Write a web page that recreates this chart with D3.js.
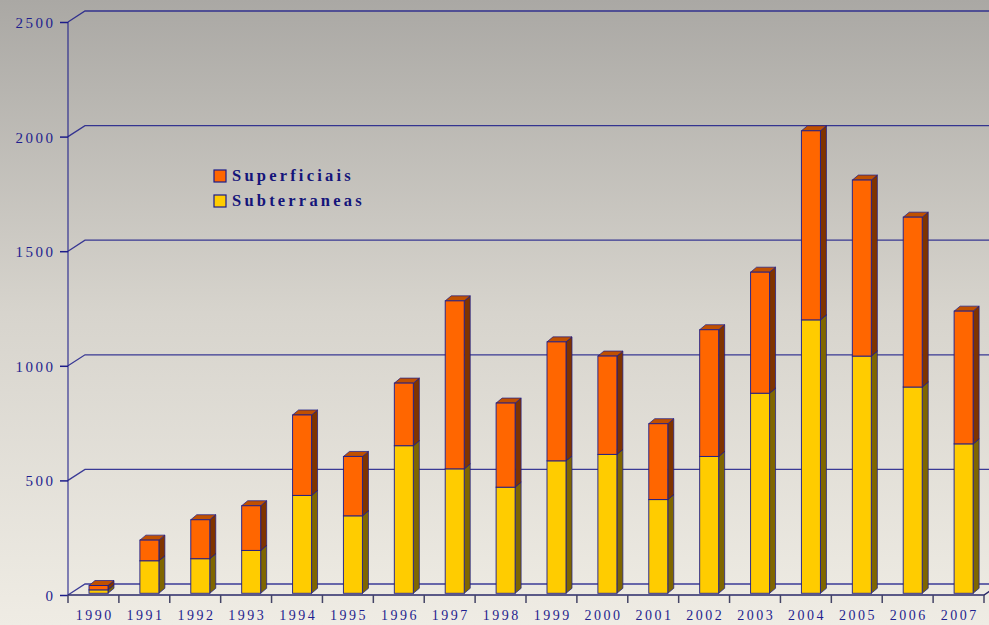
<!DOCTYPE html>
<html><head><meta charset="utf-8">
<script src="https://cdn.jsdelivr.net/npm/d3@7"></script>
<style>html,body{margin:0;padding:0;overflow:hidden;}svg{display:block;}</style>
</head><body>
<script>
const years = ["1990","1991","1992","1993","1994","1995","1996","1997","1998","1999","2000","2001","2002","2003","2004","2005","2006","2007"];
const subterraneas = [15,142,151,187,427,338,644,543,463,578,606,409,597,873,1193,1035,900,652];
const superficiais = [19,90,170,195,351,259,273,733,367,519,429,331,553,528,825,768,741,579];
const yTicks = [0,500,1000,1500,2000,2500];
const seriesNames = ["Superficiais","Subterraneas"];

const W = 989, H = 625;
const svg = d3.select("body").append("svg").attr("width", W).attr("height", H);
const defs = svg.append("defs");
const grad = defs.append("linearGradient").attr("id","bg").attr("x1",0).attr("y1",0).attr("x2",0).attr("y2",1);
grad.append("stop").attr("offset","0%").attr("stop-color","#aaa8a4");
grad.append("stop").attr("offset","50%").attr("stop-color","#d7d4cd");
grad.append("stop").attr("offset","100%").attr("stop-color","#efece4");
svg.append("rect").attr("width",W).attr("height",H).attr("fill","url(#bg)");

const navy = "#1c1c8a";
const x0 = 68, x1 = 984;
const x = d3.scaleBand().domain(years).range([x0, x1]);
// front plane scale
const yF = d3.scaleLinear().domain([0,2500]).range([595, 22]);
const backDx = 17, backDy = -11;
// bars sit slightly behind the front plane
const yB = d3.scaleLinear().domain([0,2500]).range([593.3, 593.3 - 573]);

// gridlines
const grid = svg.append("g");
yTicks.forEach(t => {
  const yf = yF(t);
  grid.append("path")
    .attr("d", `M${x0},${yf}L${x0+backDx},${yf+backDy}L${W},${yf+backDy}`)
    .attr("fill","none").attr("stroke",navy).attr("stroke-width",1.3).attr("stroke-opacity",0.85);
});

// front y axis line
svg.append("line").attr("x1",x0).attr("x2",x0).attr("y1",yF(2500)).attr("y2",yF(0))
  .attr("stroke",navy).attr("stroke-width",1.3).attr("stroke-opacity",0.8);

// y axis ticks/labels using d3 axis
const yAxis = d3.axisLeft(yF).tickValues(yTicks).tickSize(8).tickPadding(7).tickFormat(d3.format("d"));
const ya = svg.append("g").attr("transform",`translate(${x0},0)`).call(yAxis);
ya.select(".domain").remove();
ya.selectAll(".tick line").attr("stroke",navy).attr("stroke-width",1.5);
ya.selectAll(".tick text").attr("fill","#1f1f8f").attr("font-family","'Liberation Serif', serif")
  .attr("font-size",15).attr("letter-spacing","2.5px").attr("dx","2.5").attr("dy","0.36em");

// bars
const bw = 19, off = 21, ddx = 6, ddy = -5;
const colors = {
  sub: {front:"#ffcc00", side:"#7f6600", top:"#c09a00"},
  sup: {front:"#ff6600", side:"#7f3300", top:"#c05000"}
};
const barsG = svg.append("g");
years.forEach((yr,i) => {
  const bx = x(yr) + off;
  const segs = [
    {lo:0, hi:subterraneas[i], c:colors.sub},
    {lo:subterraneas[i], hi:subterraneas[i]+superficiais[i], c:colors.sup}
  ];
  segs.forEach((s,k) => {
    const yt = yB(s.hi), yb = yB(s.lo);
    const g = barsG.append("g");
    g.append("path").attr("d",`M${bx+bw},${yb}L${bx+bw+ddx},${yb+ddy}L${bx+bw+ddx},${yt+ddy}L${bx+bw},${yt}Z`)
      .attr("fill",s.c.side).attr("stroke",navy).attr("stroke-width",0.9).attr("stroke-opacity",0.8);
    g.append("path").attr("d",`M${bx},${yt}L${bx+ddx},${yt+ddy}L${bx+bw+ddx},${yt+ddy}L${bx+bw},${yt}Z`)
      .attr("fill",s.c.top).attr("stroke",navy).attr("stroke-width",0.9).attr("stroke-opacity",0.8);
    g.append("rect").attr("x",bx).attr("y",yt).attr("width",bw).attr("height",yb-yt)
      .attr("fill",s.c.front).attr("stroke",navy).attr("stroke-width",1).attr("stroke-opacity",0.9);
  });
});

// x axis front line + floor edge
svg.append("path").attr("d",`M${x0},${yF(0)}L${x1},${yF(0)}L${x1+6},${yF(0)-4}`)
  .attr("fill","none").attr("stroke","#2a2a6a").attr("stroke-width",1.5);
const xa = svg.append("g").attr("transform",`translate(0,${yF(0)})`)
  .call(d3.axisBottom(x).tickSize(0).tickPadding(0));
xa.select(".domain").remove();
xa.selectAll(".tick text").attr("fill","#1f1f8f").attr("font-family","'Liberation Serif', serif")
  .attr("font-size",14).attr("letter-spacing","2.5px").attr("dx","1.2")
  .attr("y",25).attr("dy","0");
// boundary ticks
const bounds = years.map(d => x(d)).concat([x1]);
svg.append("g").selectAll("line").data(bounds).join("line")
  .attr("x1",d=>d).attr("x2",d=>d).attr("y1",yF(0)).attr("y2",yF(0)+8)
  .attr("stroke","#444466").attr("stroke-width",1.5);

// legend
const leg = svg.append("g");
const legColors = [colors.sup.front, colors.sub.front];
seriesNames.forEach((n,i) => {
  const ly = 170 + i*25;
  leg.append("rect").attr("x",214).attr("y",ly).attr("width",12).attr("height",12)
    .attr("fill",legColors[i]).attr("stroke",navy).attr("stroke-width",1.2);
  leg.append("text").attr("x",232).attr("y",ly+11).text(n)
    .attr("fill","#14147a").attr("font-family","'Liberation Serif', serif").attr("font-weight","bold")
    .attr("font-size",16.5).attr("letter-spacing","3.2px");
});
</script>
</body></html>
